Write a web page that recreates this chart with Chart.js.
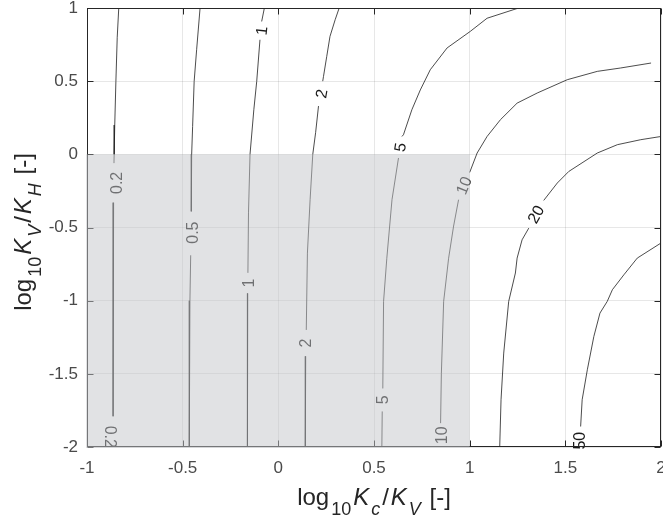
<!DOCTYPE html>
<html><head><meta charset="utf-8">
<script src="https://cdn.jsdelivr.net/npm/chart.js@4"></script>
<style>html,body{margin:0;padding:0;background:#fff;}#wrap{width:663px;height:521px;}</style>
</head><body><div id="wrap"><canvas id="c" width="663" height="521"></canvas></div>
<script>
// ---- data ----
const xTicks = [-1, -0.5, 0, 0.5, 1, 1.5, 2];
const xTickLabels = ['-1', '-0.5', '0', '0.5', '1', '1.5', '2'];
const yTicks = [-2, -1.5, -1, -0.5, 0, 0.5, 1];
const yTickLabels = ['-2', '-1.5', '-1', '-0.5', '0', '0.5', '1'];
const contourLevels = ['0.2', '0.5', '1', '2', '5', '10', '20', '50'];

// contour polylines [log10 Kc/KV, log10 KV/KH]; null = gap for an inline label
const contour_0_2 = [[-0.834,1],[-0.842,0.8],[-0.849,0.5],[-0.855,0.2],[-0.858,0],[-0.859,-0.06],null,[-0.861,-0.33],[-0.863,-0.8],[-0.864,-1.3],[-0.864,-1.79]];
const contour_0_5 = [[-0.409,1],[-0.427,0.715],[-0.44,0.498],[-0.448,0.19],[-0.453,0],[-0.455,-0.39],null,[-0.458,-0.69],[-0.462,-1],[-0.465,-1.5],[-0.466,-2]];
const contour_1 = [[-0.073,1],[-0.087,0.908],null,[-0.096,0.783],[-0.113,0.498],[-0.128,0.305],[-0.148,0],[-0.156,-0.4],[-0.159,-0.81],null,[-0.16,-0.95],[-0.161,-1.5],[-0.162,-2]];
const contour_2 = [[0.318,1],[0.297,0.92],[0.27,0.806],[0.253,0.669],[0.236,0.532],[0.232,0.5],null,[0.21,0.33],[0.195,0.15],[0.18,0],[0.166,-0.31],[0.152,-0.675],[0.146,-1.2],null,[0.143,-1.38],[0.141,-2]];
const contour_5 = [[1.256,1],[1.091,0.93],[1.003,0.84],[0.882,0.727],[0.794,0.578],[0.742,0.44],[0.698,0.305],[0.654,0.134],[0.646,0.122],null,[0.628,-0.025],[0.594,-0.31],[0.567,-0.71],[0.55,-1.005],[0.546,-1.6],null,[0.543,-1.757],[0.541,-2]];
const contour_10 = [[1.948,0.624],[1.789,0.59],[1.667,0.567],[1.51,0.51],[1.353,0.419],[1.248,0.35],[1.161,0.237],[1.091,0.122],[1.039,0.009],[1.0,-0.124],null,[0.942,-0.31],[0.916,-0.49],[0.89,-0.71],[0.864,-1.005],[0.852,-1.5],[0.848,-1.837]];
const contour_20 = [[2.0,0.122],[1.894,0.1],[1.772,0.066],[1.667,0.009],[1.518,-0.117],[1.458,-0.196],[1.387,-0.315],null,[1.309,-0.504],[1.274,-0.584],[1.248,-0.709],[1.239,-0.811],[1.204,-1.005],[1.178,-1.358],[1.164,-1.677],[1.157,-2]];
const contour_50 = [[2.0,-0.606],[1.876,-0.709],[1.806,-0.823],[1.746,-0.925],[1.719,-1.005],[1.681,-1.085],[1.649,-1.245],[1.615,-1.472],[1.588,-1.677],[1.58,-1.86]];
const contourLines = [contour_0_2, contour_0_5, contour_1, contour_2, contour_5, contour_10, contour_20, contour_50];

// inline label anchors: [level index, x, y, angle in degrees]
const labelAnchors = [
  [0, -0.845, -0.195, -90], [0, -0.876, -1.93, 90],
  [1, -0.449, -0.535, -90],
  [2, -0.087, 0.845, -84], [2, -0.157, -0.88, -90],
  [3, 0.225, 0.415, -80], [3, 0.145, -1.29, -90],
  [4, 0.637, 0.048, -81], [4, 0.546, -1.677, -90],
  [5, 0.969, -0.212, -68], [5, 0.852, -1.92, -90],
  [6, 1.346, -0.41, -61],
  [7, 1.575, -1.957, -90]
];

// shaded region [xMin, xMax, yMin, yMax]
const shadedRegion = [-1, 1, -2, 0];

// ---- chart ----
const FONT = "'Liberation Sans', Arial, Helvetica, sans-serif";

const overlay = {
  id: 'overlay',
  afterDatasetsDraw(chart) {
    const ctx = chart.ctx, xs = chart.scales.x, ys = chart.scales.y, a = chart.chartArea;
    // contour labels
    ctx.save();
    ctx.fillStyle = '#1a1a1a';
    ctx.font = '16px ' + FONT;
    ctx.textAlign = 'center';
    ctx.textBaseline = 'middle';
    labelAnchors.forEach(([li, x, y, ang]) => {
      ctx.save();
      ctx.translate(xs.getPixelForValue(x), ys.getPixelForValue(y));
      ctx.rotate(ang * Math.PI / 180);
      ctx.fillText(contourLevels[li], 0, 1);
      ctx.restore();
    });
    ctx.restore();
    // box and inward ticks
    ctx.save();
    ctx.strokeStyle = '#262626';
    ctx.lineWidth = 1;
    const L = Math.round(a.left) + 0.5, R = Math.round(a.right) - 0.5,
          T = Math.round(a.top) + 0.5, B = Math.round(a.bottom) - 0.5;
    ctx.strokeRect(L, T, R - L, B - T);
    ctx.beginPath();
    const tl = 6;
    xTicks.forEach(v => {
      const px = Math.round(xs.getPixelForValue(v)) + 0.5;
      ctx.moveTo(px, B); ctx.lineTo(px, B - tl);
      ctx.moveTo(px, T); ctx.lineTo(px, T + tl);
    });
    yTicks.forEach(v => {
      const py = Math.round(ys.getPixelForValue(v)) + 0.5;
      ctx.moveTo(L, py); ctx.lineTo(L + tl, py);
      ctx.moveTo(R, py); ctx.lineTo(R - tl, py);
    });
    ctx.stroke();
    ctx.restore();
    // translucent shaded region on top
    ctx.save();
    const x0 = xs.getPixelForValue(shadedRegion[0]) - 1, x1 = xs.getPixelForValue(shadedRegion[1]);
    const y0 = ys.getPixelForValue(shadedRegion[3]), y1 = ys.getPixelForValue(shadedRegion[2]) + 1;
    ctx.fillStyle = 'rgba(196,197,201,0.5)';
    ctx.fillRect(x0, y0, x1 - x0, y1 - y0);
    ctx.restore();
  },
  afterDraw(chart) {
    const ctx = chart.ctx, a = chart.chartArea;
    const segs = (k1, k2) => [
      {t: 'log'}, {t: '10', sub: true}, {t: 'K', it: true}, {t: k1, it: true, sub: true},
      {t: '/'}, {t: 'K', it: true}, {t: k2, it: true, sub: true}, {t: ' [-]'}
    ];
    const main = 24, sub = 18, gap = 2, subShift = 10;
    function fontOf(s) { return (s.it ? 'italic ' : '') + (s.sub ? sub : main) + 'px ' + FONT; }
    function drawRich(list, cx, baseY) {
      let w = 0;
      list.forEach(s => { ctx.font = fontOf(s); s.w = ctx.measureText(s.t).width; w += s.w + gap; });
      w -= gap;
      let x = cx - w / 2;
      ctx.textAlign = 'left';
      ctx.textBaseline = 'alphabetic';
      list.forEach(s => {
        ctx.font = fontOf(s);
        ctx.fillText(s.t, x, baseY + (s.sub ? subShift : 0));
        x += s.w + gap;
      });
    }
    ctx.save();
    ctx.fillStyle = '#262626';
    drawRich(segs('c', 'V'), (a.left + a.right) / 2, 505);
    ctx.translate(31, 232);
    ctx.rotate(-Math.PI / 2);
    drawRich(segs('V', 'H'), 0, 0);
    ctx.restore();
  }
};

new Chart(document.getElementById('c'), {
  type: 'scatter',
  data: {
    datasets: contourLines.map((pts, i) => ({
      label: contourLevels[i],
      data: pts.map(p => p ? {x: p[0], y: p[1]} : {x: null, y: null}),
      showLine: true,
      borderColor: '#1e1e1e',
      borderWidth: 0.8,
      pointRadius: 0,
      pointHoverRadius: 0,
      fill: false,
      tension: 0,
      spanGaps: false
    }))
  },
  options: {
    responsive: false,
    animation: false,
    devicePixelRatio: 1,
    layout: {padding: {top: 8, right: 2, left: 0, bottom: 0}},
    plugins: {legend: {display: false}, tooltip: {enabled: false}},
    scales: {
      x: {
        type: 'linear', min: -1, max: 2,
        afterBuildTicks: s => { s.ticks = xTicks.map(v => ({value: v})); },
        afterFit: s => { s.height = 74; s.paddingLeft = 0; s.paddingRight = 0; },
        grid: {color: 'rgba(38,38,38,0.11)', drawTicks: false, lineWidth: 1},
        border: {display: false},
        ticks: {
          font: {family: FONT, size: 17}, color: '#4a4a4a', padding: 11,
          maxRotation: 0, autoSkip: false,
          callback: v => xTickLabels[xTicks.indexOf(v)]
        }
      },
      y: {
        type: 'linear', min: -2, max: 1,
        afterBuildTicks: s => { s.ticks = yTicks.map(v => ({value: v})); },
        afterFit: s => { s.width = 87; s.paddingTop = 0; s.paddingBottom = 0; },
        grid: {color: 'rgba(38,38,38,0.11)', drawTicks: false, lineWidth: 1},
        border: {display: false},
        ticks: {
          font: {family: FONT, size: 17}, color: '#4a4a4a', padding: 9,
          autoSkip: false,
          callback: v => yTickLabels[yTicks.indexOf(v)]
        }
      }
    }
  },
  plugins: [overlay]
});
</script>
</body></html>
